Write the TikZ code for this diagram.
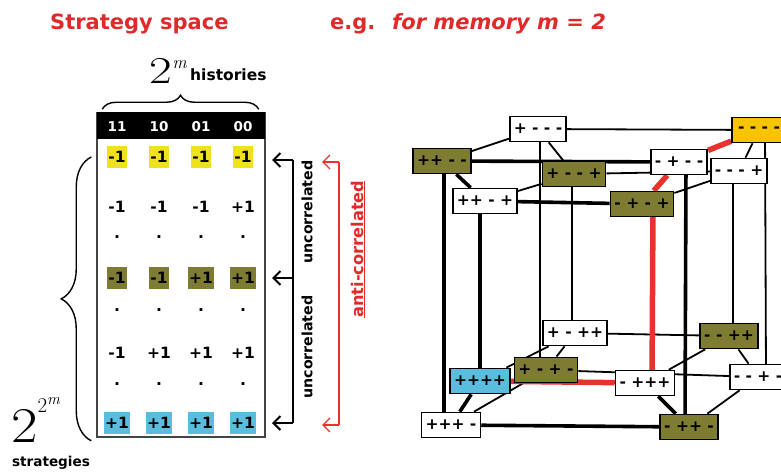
\documentclass[tikz,border=0pt]{standalone}
\usepackage{fontspec}
\usepackage{xcolor}
\usepackage{tikz}
\usetikzlibrary{arrows.meta,calc,backgrounds,decorations.pathreplacing}
\newfontfamily\dvs{DejaVu Sans}
\definecolor{titlered}{HTML}{E02A2A}
\definecolor{lemon}{HTML}{F0E11E}
\definecolor{moss}{HTML}{7E7B33}
\definecolor{sky}{HTML}{5BBDDD}
\definecolor{amber}{HTML}{F6C500}
\definecolor{pathred}{HTML}{E8322E}
\definecolor{rulegray}{HTML}{444444}

\begin{document}
\begin{tikzpicture}[x=1pt,y=-1pt,
  head/.style={font=\dvs\bfseries\fontsize{21}{21}\selectfont,text=titlered,anchor=base west,inner sep=0pt},
  lbl/.style={font=\dvs\bfseries\fontsize{15.5}{15.5}\selectfont,inner sep=0pt},
  hdr/.style={font=\dvs\bfseries\fontsize{13.5}{13.5}\selectfont,text=white},
  cell/.style={font=\dvs\bfseries\fontsize{15.5}{15.5}\selectfont,inner xsep=1.5pt,minimum height=22pt},
  dotc/.style={font=\dvs\bfseries\fontsize{15.5}{15.5}\selectfont,inner sep=0pt},
  vtx/.style={draw,line width=1.7pt,fill=white,minimum width=54pt,minimum height=25pt,inner xsep=4pt,font=\dvs\bfseries\fontsize{15.5}{15.5}\selectfont},
  edgethin/.style={line width=1.8pt},
  edgethick/.style={line width=3.6pt},
  edgered/.style={line width=5.5pt,draw=pathred},
  brc/.style={decorate,line width=1.4pt},
  bk/.style={line width=2pt},
  rd/.style={line width=1.4pt,draw=pathred},
  tip/.style={-{Straight Barb[length=7pt,width=14pt]}},
  vert/.style={rotate=90,font=\dvs\bfseries\fontsize{14.2}{14.2}\selectfont}
]
\useasboundingbox (0,0) rectangle (781,476);
\clip (0,0) rectangle (781,476);
\node[head] (titl) at (50,30) {Strategy space};
\node[head] (egl) at (330,30) {e.g.};
\node[head,font=\dvs\bfseries\itshape\fontsize{21}{21}\selectfont] (meml) at (392,30) {for memory m = 2};

\node[draw=rulegray,line width=1.5pt,minimum width=168pt,minimum height=324pt,inner sep=0pt] (tbl) at (181,275) {};
\node[fill=black,minimum width=168pt,minimum height=27pt,inner sep=0pt,anchor=north] (bar) at (tbl.north) {};
\foreach \h [count=\c] in {11,10,01,00} \node[hdr] (hd\c) at ({75+42*\c},127) {\h};
\foreach \v [count=\c] in {-1,-1,-1,-1} \node[cell,fill=lemon] (ra\c) at ({75+42*\c},157) {\v};
\foreach \v [count=\c] in {-1,-1,-1,+1} \node[cell] (rb\c) at ({75+42*\c},207) {\v};
\foreach \v [count=\c] in {-1,-1,+1,+1} \node[cell,fill=moss] (rc\c) at ({75+42*\c},278) {\v};
\foreach \v [count=\c] in {-1,+1,+1,+1} \node[cell] (rd\c) at ({75+42*\c},353) {\v};
\foreach \v [count=\c] in {+1,+1,+1,+1} \node[cell,fill=sky] (re\c) at ({75+42*\c},423) {\v};
\foreach \y in {237,310,384} {\foreach \c in {1,...,4} \node[dotc] (dt\y-\c) at ({75+42*\c},\y) {.};}

\node[lbl,anchor=base west] (hist) at (190,81) {histories};
\node[anchor=base east,inner sep=0pt] (twom) at (187,84) {\scalebox{1.3}[1]{\fontsize{38}{38}\selectfont 2}\raisebox{15pt}{\fontsize{18}{18}\selectfont\itshape m}};
\draw[brc,decoration={brace,amplitude=14pt}] ([xshift=6pt,yshift=3pt]tbl.north west) -- ([xshift=-7pt,yshift=3pt]tbl.north east);
\coordinate (btop) at (tbl.west |- ra1);
\draw[brc,decoration={brace,amplitude=30pt}] ([xshift=-5pt,yshift=-3pt]tbl.south west) -- ([xshift=-5pt]btop);
\node[anchor=base west,inner sep=0pt] (twotwom) at (11,442) {\scalebox{1.15}[1]{\fontsize{50}{50}\selectfont 2}\raisebox{30pt}{\fontsize{21}{21}\selectfont 2\raisebox{8pt}{\fontsize{16}{16}\selectfont\itshape m}}};
\node[font=\dvs\bfseries\fontsize{13.6}{13.6}\selectfont] (strat) at (51,463) {strategies};

\coordinate (ub1) at (293,160);
\coordinate (ub2) at (293,278);
\coordinate (ub3) at (293,423);
\coordinate (ut1) at (272,160);
\coordinate (ut2) at (272,278);
\coordinate (ut3) at (272,423);
\draw[bk] (ub1) -- (ub3);
\foreach \i in {1,2,3} {\draw[bk,tip] (ub\i) -- (ut\i);}
\coordinate (rb1) at (339,162);
\coordinate (rb2) at (339,425);
\coordinate (rt1) at (322,162);
\coordinate (rt2) at (322,425);
\draw[rd] (rb1) -- (rb2);
\foreach \i in {1,2} {\draw[rd,tip] (rb\i) -- (rt\i);}
\node[vert] (unc1) at (307,212) {uncorrelated};
\node[vert] (unc2) at (307,347) {uncorrelated};
\node[vert,text=titlered,font=\dvs\bfseries\fontsize{16.2}{16.2}\selectfont] (anti) at (358,249) {\underline{anti-correlated}};

\node[vtx] (pmmm) at (538,129) {+ - - -};
\node[vtx,fill=amber] (mmmm) at (759,130) {- - - -};
\node[vtx,fill=moss] (ppmm) at (442,161) {++ - -};
\node[vtx] (mpmm) at (679,162) {- + - -};
\node[vtx,fill=moss] (pmmp) at (574,174) {+ - - +};
\node[vtx] (mmmp) at (739,171) {- - - +};
\node[vtx] (ppmp) at (485,201) {++ - +};
\node[vtx,fill=moss] (mpmp) at (642,204) {- + - +};
\node[vtx] (pmpp) at (575,333) {+ - ++};
\node[vtx,fill=moss] (mmpp) at (729,336) {- - ++};
\node[vtx,fill=sky] (pppp) at (480,381) {++++};
\node[vtx,fill=moss] (pmpm) at (546,370) {+ - + -};
\node[vtx] (mppp) at (645,383) {- +++};
\node[vtx] (mmpm) at (758,377) {- - + -};
\node[vtx] (pppm) at (451,425) {+++ -};
\node[vtx,fill=moss] (mppm) at (689,427) {- ++ -};

\begin{scope}[on background layer]
\foreach \u/\v in {pmmm/mmmm,pmmp/mmmp,pmpp/mmpp,pmpm/mmpm,pmmm/ppmm,pmmp/ppmp,mmmp/mpmp,pmpp/pppp,mmpp/mppp,pmpm/pppm,mmpm/mppm,pmmm/pmmp,mmmm/mmmp,pmpm/pmpp,mmpm/mmpp} {\draw[edgethin](\u)--(\v);}
\foreach \u/\v in {ppmm/mpmm,ppmp/mpmp,pppm/mppm,ppmm/ppmp,pppm/pppp,mppm/mppp} {\draw[edgethick](\u)--(\v);}
\foreach \u/\v/\p/\q/\s in {pmmm/pmpm/2pt/-6pt/edgethin,pmmp/pmpp/-2pt/-3pt/edgethin,mmmp/mmpp/-6pt/4pt/edgethin,mmmm/mmpm/6pt/8pt/edgethin,ppmm/pppm/2pt/-7pt/edgethick,mpmm/mppm/7pt/-4pt/edgethick,ppmp/pppp/-5pt/0pt/edgethick,mpmp/mppp/11pt/7pt/edgered} {\draw[\s]([xshift=\p]\u.center)--([xshift=\q]\v.center);}
\foreach \u/\v in {pppp/mppp,mmmm/mpmm,mpmm/mpmp} {\draw[edgered](\u)--(\v);}
\end{scope}
\end{tikzpicture}
\end{document}
